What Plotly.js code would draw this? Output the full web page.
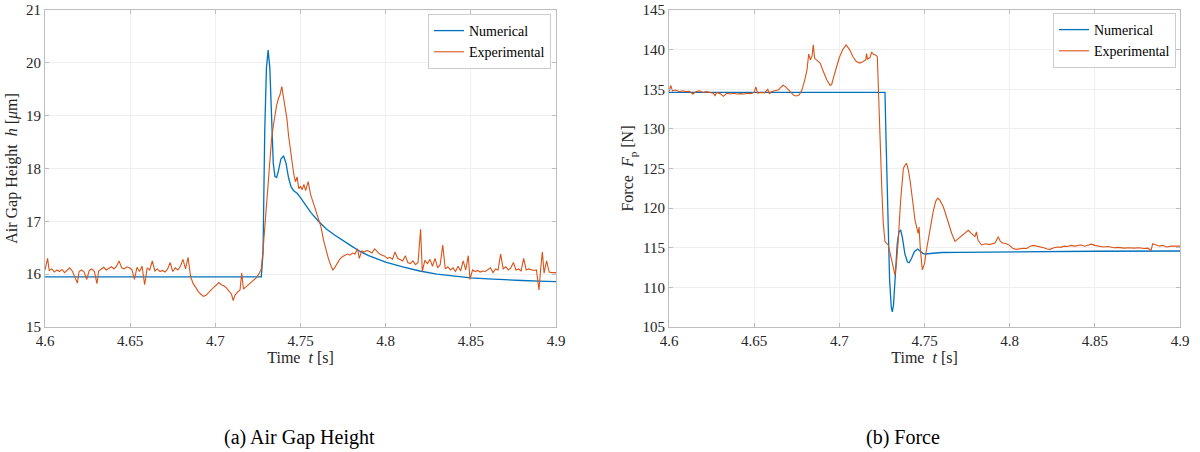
<!DOCTYPE html>
<html>
<head>
<meta charset="utf-8">
<script src="https://cdn.plot.ly/plotly-3.0.1.min.js"></script>
<style>html,body{margin:0;padding:0;background:#fff;}#plot{width:1200px;height:452px;}</style>
</head>
<body>
<div id="plot"></div>
<script>
// ---------- (a) Air gap height ----------
const numHT = [4.600,4.7270,4.7280,4.7290,4.7300,4.7310,4.7320,4.7330,4.7340,4.7350,4.7360,4.7370,4.7385,4.7400,4.7415,4.7430,4.7445,4.7460,4.7480,4.7500,4.7530,4.7560,4.7600,4.7650,4.7700,4.7750,4.7800,4.7850,4.7900,4.7950,4.8000,4.8100,4.8200,4.8300,4.8400,4.8500,4.8600,4.8700,4.8800,4.8900,4.9000];
const numH  = [15.95,15.95,16.40,18.70,19.90,20.24,19.90,18.95,18.10,17.85,17.83,17.95,18.18,18.24,18.10,17.82,17.65,17.58,17.53,17.45,17.30,17.17,17.02,16.86,16.74,16.63,16.53,16.43,16.35,16.29,16.23,16.14,16.06,16.00,15.96,15.93,15.91,15.89,15.88,15.87,15.86];

const expHT = [4.6000,4.6015,4.6025,4.6040,4.6055,4.6070,4.6085,4.6100,4.6115,4.6130,4.6145,4.6160,4.6175,4.6190,4.6200,4.6215,4.6230,4.6245,4.6260,4.6275,4.6290,4.6305,4.6315,4.6330,4.6345,4.6360,4.6375,4.6390,4.6405,4.6420,4.6435,4.6450,4.6465,4.6480,4.6495,4.6510,4.6525,4.6540,4.6555,4.6570,4.6585,4.6600,4.6615,4.6630,4.6645,4.6660,4.6675,4.6690,4.6705,4.6720,4.6735,4.6750,4.6765,4.6780,4.6795,4.6810,4.6825,4.6840,4.6855,4.6870,4.6885,4.6900,4.6915,4.6930,4.6945,4.6960,4.6975,4.6990,4.7005,4.7020,4.7035,4.7050,4.7065,4.7080,4.7095,4.7105,4.7115,4.7130,4.7145,4.7155,4.7165,4.7180,4.7195,4.7210,4.7225,4.7240,4.7255,4.7270,4.7280,4.7290,4.7300,4.7310,4.7320,4.7330,4.7340,4.7350,4.7360,4.7370,4.7380,4.7390,4.7400,4.7410,4.7420,4.7430,4.7440,4.7450,4.7460,4.7470,4.7480,4.7490,4.7500,4.7510,4.7520,4.7530,4.7545,4.7560,4.7575,4.7590,4.7605,4.7620,4.7635,4.7650,4.7665,4.7680,4.7690,4.7700,4.7715,4.7730,4.7745,4.7760,4.7775,4.7790,4.7805,4.7820,4.7835,4.7845,4.7860,4.7875,4.7890,4.7905,4.7920,4.7935,4.7950,4.7965,4.7980,4.7995,4.8010,4.8025,4.8040,4.8055,4.8070,4.8085,4.8100,4.8115,4.8130,4.8145,4.8160,4.8175,4.8190,4.8205,4.8215,4.8230,4.8245,4.8260,4.8275,4.8290,4.8305,4.8320,4.8335,4.8350,4.8365,4.8380,4.8395,4.8410,4.8425,4.8440,4.8455,4.8470,4.8485,4.8495,4.8510,4.8525,4.8540,4.8555,4.8570,4.8585,4.8600,4.8615,4.8630,4.8645,4.8660,4.8675,4.8690,4.8705,4.8720,4.8735,4.8750,4.8765,4.8780,4.8795,4.8810,4.8825,4.8840,4.8855,4.8870,4.8885,4.8900,4.8910,4.8920,4.8930,4.8945,4.8960,4.8975,4.9000];
const expH  = [16.08,16.30,16.07,16.10,16.04,16.08,16.05,16.09,16.03,16.07,16.12,16.06,15.95,15.83,16.05,16.08,16.04,15.90,16.07,16.10,16.05,15.82,16.06,16.09,16.13,16.08,16.11,16.14,16.10,16.15,16.25,16.12,16.10,16.14,16.12,16.09,15.90,16.13,16.05,16.15,15.80,16.12,16.08,16.25,16.06,16.10,16.05,16.07,16.04,16.10,16.22,16.05,16.12,16.08,16.15,16.28,16.10,16.32,15.95,15.82,15.75,15.67,15.62,15.58,15.60,15.65,15.72,15.75,15.79,15.84,15.80,15.78,15.74,15.68,15.62,15.50,15.60,15.66,15.70,16.02,15.72,15.76,15.80,15.84,15.88,15.93,16.00,16.10,16.45,16.90,17.21,17.80,18.22,18.55,18.80,19.05,19.20,19.32,19.40,19.55,19.35,19.15,18.95,18.62,18.35,18.10,17.90,17.75,17.84,17.62,17.66,17.60,17.70,17.58,17.75,17.50,17.34,17.20,17.05,16.90,16.65,16.45,16.28,16.15,16.08,16.12,16.20,16.28,16.33,16.35,16.38,16.36,16.40,16.38,16.48,16.30,16.44,16.42,16.45,16.43,16.40,16.48,16.42,16.38,16.36,16.34,16.30,16.32,16.28,16.42,16.30,16.28,16.25,16.35,16.22,16.20,16.25,16.18,16.22,16.85,16.05,16.26,16.20,16.28,16.15,16.30,16.12,16.18,16.55,16.10,16.14,16.08,16.12,16.05,16.15,16.06,16.25,16.08,16.35,15.90,16.08,16.05,16.07,16.04,16.06,16.05,16.08,16.12,16.03,16.10,16.08,16.38,16.10,16.14,16.08,16.12,16.22,16.08,16.10,16.06,16.30,16.08,16.10,16.09,16.07,16.08,15.70,16.10,16.42,16.02,16.25,16.04,16.03,16.03];

// ---------- (b) Force ----------
const numFT = [4.600,4.7268,4.7275,4.7285,4.7295,4.7305,4.7311,4.7318,4.7328,4.7340,4.7350,4.7360,4.7370,4.7385,4.7400,4.7410,4.7425,4.7440,4.7460,4.7475,4.7490,4.7503,4.7520,4.7550,4.7600,4.7700,4.8000,4.8500,4.9000];
const numF  = [134.6,134.6,128.0,118.0,111.0,107.5,106.9,107.8,111.5,115.5,117.0,117.24,116.3,114.2,113.2,113.11,113.7,114.5,114.84,114.6,114.3,114.21,114.25,114.35,114.40,114.42,114.50,114.56,114.59];

const expFT = [4.6000,4.6010,4.6020,4.6040,4.6060,4.6080,4.6100,4.6120,4.6140,4.6160,4.6180,4.6200,4.6220,4.6240,4.6260,4.6270,4.6280,4.6300,4.6320,4.6340,4.6360,4.6380,4.6400,4.6420,4.6440,4.6460,4.6480,4.6500,4.6510,4.6520,4.6540,4.6560,4.6580,4.6590,4.6600,4.6620,4.6640,4.6655,4.6670,4.6685,4.6700,4.6720,4.6735,4.6750,4.6765,4.6780,4.6795,4.6810,4.6820,4.6830,4.6840,4.6847,4.6855,4.6870,4.6887,4.6905,4.6926,4.6945,4.6955,4.6970,4.6985,4.7000,4.7020,4.7040,4.7060,4.7080,4.7100,4.7120,4.7140,4.7155,4.7160,4.7165,4.7180,4.7190,4.7200,4.7215,4.7223,4.7229,4.7239,4.7250,4.7258,4.7268,4.7287,4.7300,4.7315,4.7327,4.7335,4.7346,4.7360,4.7376,4.7385,4.7395,4.7405,4.7415,4.7430,4.7444,4.7455,4.7463,4.7468,4.7475,4.7487,4.7500,4.7510,4.7522,4.7535,4.7551,4.7565,4.7577,4.7590,4.7610,4.7625,4.7640,4.7660,4.7679,4.7700,4.7720,4.7740,4.7757,4.7770,4.7785,4.7796,4.7805,4.7815,4.7835,4.7860,4.7880,4.7900,4.7914,4.7933,4.7945,4.7960,4.7980,4.8000,4.8020,4.8040,4.8060,4.8081,4.8100,4.8120,4.8140,4.8160,4.8180,4.8200,4.8220,4.8237,4.8260,4.8280,4.8300,4.8320,4.8340,4.8360,4.8380,4.8400,4.8420,4.8440,4.8460,4.8480,4.8500,4.8520,4.8550,4.8580,4.8610,4.8640,4.8670,4.8700,4.8730,4.8760,4.8790,4.8810,4.8830,4.8840,4.8860,4.8880,4.8900,4.8920,4.8950,4.9000];
const expF  = [134.7,135.5,134.8,134.9,134.7,134.8,134.7,134.75,134.4,134.7,134.8,134.6,134.7,134.6,134.5,134.2,134.6,134.45,134.1,134.5,134.4,134.5,134.4,134.45,134.4,134.5,134.45,134.6,135.3,134.5,134.6,134.55,135.0,134.4,134.7,134.8,134.9,135.2,135.5,135.3,134.9,134.5,134.2,134.15,134.3,134.9,136.0,137.4,139.45,138.7,139.2,140.6,138.9,138.6,138.3,137.3,136.2,135.5,135.6,136.8,137.85,139.0,140.0,140.6,140.0,139.1,138.5,138.3,138.5,138.7,139.5,138.8,139.0,139.7,139.4,139.3,139.1,134.7,129.9,122.0,118.1,115.76,115.35,114.0,112.5,111.56,113.0,115.98,121.0,125.0,125.4,125.65,124.8,123.55,121.0,118.5,117.5,116.8,117.6,115.0,112.2,113.0,114.5,116.0,118.0,119.55,120.8,121.25,121.0,120.2,119.2,118.1,116.8,115.8,116.2,116.6,117.0,117.2,116.9,116.6,116.4,117.0,115.9,115.35,115.5,115.4,115.5,115.6,116.4,115.8,115.6,115.5,115.3,114.9,114.8,114.9,114.93,114.9,115.2,115.3,115.2,115.15,115.0,114.85,114.8,115.0,115.1,115.05,115.2,115.15,115.3,115.2,115.3,115.35,115.2,115.3,115.45,115.3,115.2,115.1,115.15,115.0,115.05,114.95,115.0,114.95,115.0,114.9,114.95,114.7,115.5,115.3,115.2,115.3,115.1,115.2,115.2];

const seriesNames = ['Numerical','Experimental'];
const xTickVals = [4.6,4.65,4.7,4.75,4.8,4.85,4.9];
const xTickText = ['4.6','4.65','4.7','4.75','4.8','4.85','4.9'];
const captions = ['(a) Air Gap Height','(b) Force'];

const BLUE = '#0072BD', ORANGE = '#D95319';
const FONT = '"Liberation Serif", "Times New Roman", serif';
const NB = '\u00a0';

const traces = [
  {x: numHT, y: numH, name: seriesNames[0], mode:'lines', line:{color:BLUE,width:1.3}, xaxis:'x', yaxis:'y', legend:'legend'},
  {x: expHT, y: expH, name: seriesNames[1], mode:'lines', line:{color:ORANGE,width:1.1}, xaxis:'x', yaxis:'y', legend:'legend'},
  {x: numFT, y: numF, name: seriesNames[0], mode:'lines', line:{color:BLUE,width:1.3}, xaxis:'x2', yaxis:'y2', legend:'legend2'},
  {x: expFT, y: expF, name: seriesNames[1], mode:'lines', line:{color:ORANGE,width:1.1}, xaxis:'x2', yaxis:'y2', legend:'legend2'}
];

const axisCommon = {
  showline:true, mirror:'ticks', linecolor:'#bdbdbd', linewidth:1,
  ticks:'inside', ticklen:4, tickcolor:'#bdbdbd',
  showgrid:true, gridcolor:'#efefef', zeroline:false,
  tickfont:{family:FONT, size:15, color:'#262626'}
};
const yDom = [1-327/452, 1-10/452];
const titleFont = {family:FONT, size:16, color:'#262626'};

const layout = {
  width:1200, height:452,
  margin:{l:0,r:0,t:0,b:0},
  paper_bgcolor:'#fff', plot_bgcolor:'#fff',
  font:{family:FONT, color:'#262626'},
  xaxis: Object.assign({}, axisCommon, {domain:[45/1200,556/1200], range:[4.6,4.9], tickvals:xTickVals, ticktext:xTickText, anchor:'y',
    title:{text:'Time'+NB+NB+'<i>t</i> [s]', font:titleFont, standoff:0}}),
  yaxis: Object.assign({}, axisCommon, {domain:yDom, range:[15,21], dtick:1, anchor:'x',
    title:{text:'Air Gap Height'+NB+NB+'<i>h</i> [<i>μ</i>m]', font:titleFont, standoff:4}}),
  xaxis2: Object.assign({}, axisCommon, {domain:[669/1200,1180/1200], range:[4.6,4.9], tickvals:xTickVals, ticktext:xTickText, anchor:'y2',
    title:{text:'Time'+NB+NB+'<i>t</i> [s]', font:titleFont, standoff:0}}),
  yaxis2: Object.assign({}, axisCommon, {domain:yDom, range:[105,145], dtick:5, anchor:'x2',
    title:{text:'Force'+NB+NB+'<i>F</i><sub>p</sub> [N]', font:titleFont, standoff:4}}),
  legend: {x:551/1200, xanchor:'right', y:1-14/452, yanchor:'top', bgcolor:'#fff', bordercolor:'#cccccc', borderwidth:1,
    font:{family:FONT,size:14,color:'#000'}, itemwidth:30, tracegroupgap:0},
  legend2: {x:1176/1200, xanchor:'right', y:1-13/452, yanchor:'top', bgcolor:'#fff', bordercolor:'#cccccc', borderwidth:1,
    font:{family:FONT,size:14,color:'#000'}, itemwidth:30, tracegroupgap:0},
  annotations: [
    {text:captions[0], xref:'paper', yref:'paper', x:299/1200, y:1-437/452, xanchor:'center', yanchor:'middle', showarrow:false, font:{family:FONT,size:20,color:'#000'}},
    {text:captions[1], xref:'paper', yref:'paper', x:903/1200, y:1-437/452, xanchor:'center', yanchor:'middle', showarrow:false, font:{family:FONT,size:20,color:'#000'}}
  ],
  showlegend:true
};

Plotly.newPlot('plot', traces, layout, {displayModeBar:false, staticPlot:true});
</script>
</body>
</html>
